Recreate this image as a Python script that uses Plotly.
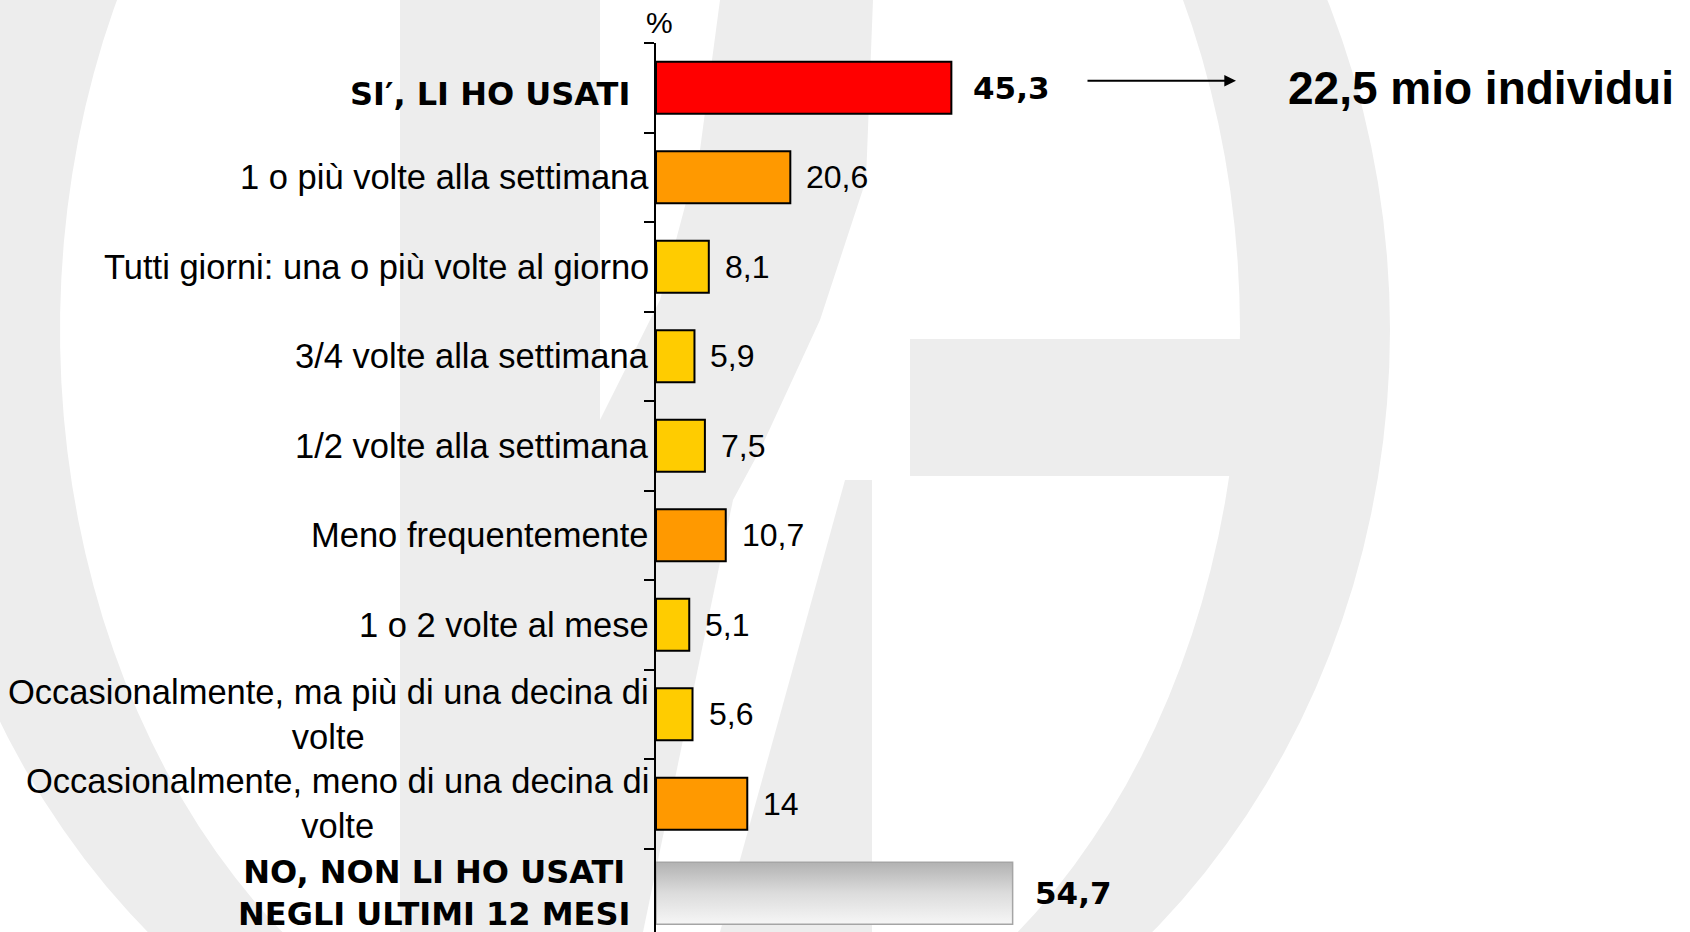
import numpy as np
import plotly.graph_objects as go

# ---------------- data ----------------
categories = [
    "SI′, LI HO USATI",
    "1 o più volte alla settimana",
    "Tutti giorni: una o più volte al giorno",
    "3/4 volte alla settimana",
    "1/2 volte alla settimana",
    "Meno frequentemente",
    "1 o 2 volte al mese",
    "Occasionalmente, ma più di una decina di<br>volte",
    "Occasionalmente, meno di una decina di<br>volte",
    "NO, NON LI HO USATI<br>NEGLI ULTIMI 12 MESI",
]
values = [45.3, 20.6, 8.1, 5.9, 7.5, 10.7, 5.1, 5.6, 14, 54.7]
callout_text = "22,5 mio individui"
unit_label = "%"

# ---------------- styles ----------------
RED, ORANGE, YELLOW = "#FF0000", "#FF9900", "#FFCC00"
bar_colors = [RED, ORANGE, YELLOW, YELLOW, YELLOW, ORANGE, YELLOW, YELLOW, ORANGE, None]
bold_rows = {0, 9}
W, H = 1690, 932
L, T, R, B = 656, 43, 0, 0
PW, PH = W - L - R, H - T - B
PX_PER_UNIT = 6.52
n = len(categories)
idx = list(range(n))
y_bottom = -0.5 + PH / 89.5

def fmt(v):
    return f"{v:g}".replace(".", ",")

fig = go.Figure()

# coloured bars (all but the last)
main_idx = [i for i in idx if bar_colors[i] is not None]
fig.add_trace(go.Bar(
    y=main_idx, x=[values[i] for i in main_idx], orientation="h",
    marker=dict(color=[bar_colors[i] for i in main_idx], line=dict(color="black", width=2)),
    width=0.58, showlegend=False, hoverinfo="skip",
))

# gray gradient bar for the last category
gi = n - 1
hw = 0.345
fig.add_trace(go.Scatter(
    x=[0, values[gi], values[gi], 0, 0],
    y=[gi - hw, gi - hw, gi + hw, gi + hw, gi - hw],
    mode="lines", fill="toself",
    fillgradient=dict(type="vertical",
                      colorscale=[[0, "#f6f6f6"], [0.5, "#dcdcdc"], [1, "#b2b2b2"]]),
    line=dict(color="#a5a5a5", width=1.5), showlegend=False, hoverinfo="skip",
))

annotations = []
for i in idx:
    bold = i in bold_rows
    annotations.append(dict(
        x=0, y=i, xref="x", yref="y", text=categories[i], showarrow=False,
        xanchor="right", yanchor="middle", align="center",
        xshift=-24 if bold else -5, yshift=-6 if i == 0 else 0,
        font=dict(family="DejaVu Sans" if bold else "Liberation Sans",
                  size=32 if bold else 34.5, color="black",
                  weight="bold" if bold else "normal"),
    ))
    annotations.append(dict(
        x=values[i], y=i, xref="x", yref="y", text=fmt(values[i]), showarrow=False,
        xanchor="left", yanchor="middle",
        xshift=20 if bold else 14,
        font=dict(family="DejaVu Sans" if bold else "Liberation Sans",
                  size=31 if bold else 32, color="black",
                  weight="bold" if bold else "normal"),
    ))

# unit label
annotations.append(dict(x=0, y=1, xref="x", yref="paper", text=unit_label, showarrow=False,
                        xanchor="center", yanchor="bottom", xshift=3, yshift=2,
                        font=dict(family="Liberation Sans", size=30, color="black")))
# arrow + callout
arrow_end = (1236 - L) / PW
annotations.append(dict(x=arrow_end, y=0, xref="paper", yref="y", ax=-150, ay=0,
                        text="", showarrow=True, arrowhead=2, arrowsize=1.3,
                        arrowwidth=1.8, arrowcolor="black", yshift=7))
annotations.append(dict(x=(1286 - L) / PW, y=0, xref="paper", yref="y", text=callout_text,
                        showarrow=False, xanchor="left", yanchor="middle",
                        font=dict(family="Liberation Sans", size=46, color="black",
                                  weight="bold")))

# ---------------- watermark (background logo) ----------------
def to_paper(px, py):
    return ((px - L) / PW, 1 - (py - T) / PH)

def path_from(points):
    pts = [to_paper(x, y) for x, y in points]
    return "M " + " L ".join(f"{x:.5f},{y:.5f}" for x, y in pts) + " Z"

WM = "#ededed"
shapes = []
th = np.linspace(0, 2 * np.pi, 140)
cx, cy = 650, 330
outer = [(cx + 740 * np.cos(t), cy + 820 * np.sin(t)) for t in th]
inner = [(cx + 590 * np.cos(t), cy + 770 * np.sin(t)) for t in th]
shapes.append(dict(type="path", path=path_from(outer) + " " + path_from(inner),
                   xref="paper", yref="paper", fillcolor=WM, line=dict(width=0),
                   layer="below", fillrule="evenodd"))
for poly in [
    # vertical stem
    [(400, 0), (600, 0), (600, 932), (400, 932)],
    # upper curved arm
    [(720, 0), (873, 0), (866, 180), (820, 320), (760, 450), (733, 500), (650, 600),
     (560, 640), (560, 420), (600, 420), (660, 300), (700, 150)],
    # lower wedge left of the white stripe
    [(600, 560), (733, 500), (643, 932), (600, 932)],
    # lower wedge right of the white stripe
    [(845, 480), (872, 480), (872, 932), (720, 932)],
    # horizontal bar
    [(910, 339), (1300, 339), (1300, 476), (910, 476)],
]:
    shapes.append(dict(type="path", path=path_from(poly), xref="paper", yref="paper",
                       fillcolor=WM, line=dict(width=0), layer="below"))

fig.update_layout(
    width=W, height=H, margin=dict(l=L, r=R, t=T, b=B, pad=0),
    paper_bgcolor="white", plot_bgcolor="rgba(0,0,0,0)",
    xaxis=dict(visible=False, range=[0, PW / PX_PER_UNIT], fixedrange=True),
    yaxis=dict(range=[y_bottom, -0.5], tickmode="array",
               tickvals=[k - 0.5 for k in range(n + 1)], showticklabels=False,
               ticks="outside", ticklen=10, tickwidth=2, tickcolor="black",
               showline=True, linecolor="black", linewidth=2, showgrid=False,
               zeroline=False, fixedrange=True),
    annotations=annotations, shapes=shapes, bargap=0.4,
)

fig.write_html("out.html", config={"displayModeBar": False},
               post_script="document.body.style.margin='0px';document.body.style.overflow='hidden';")
